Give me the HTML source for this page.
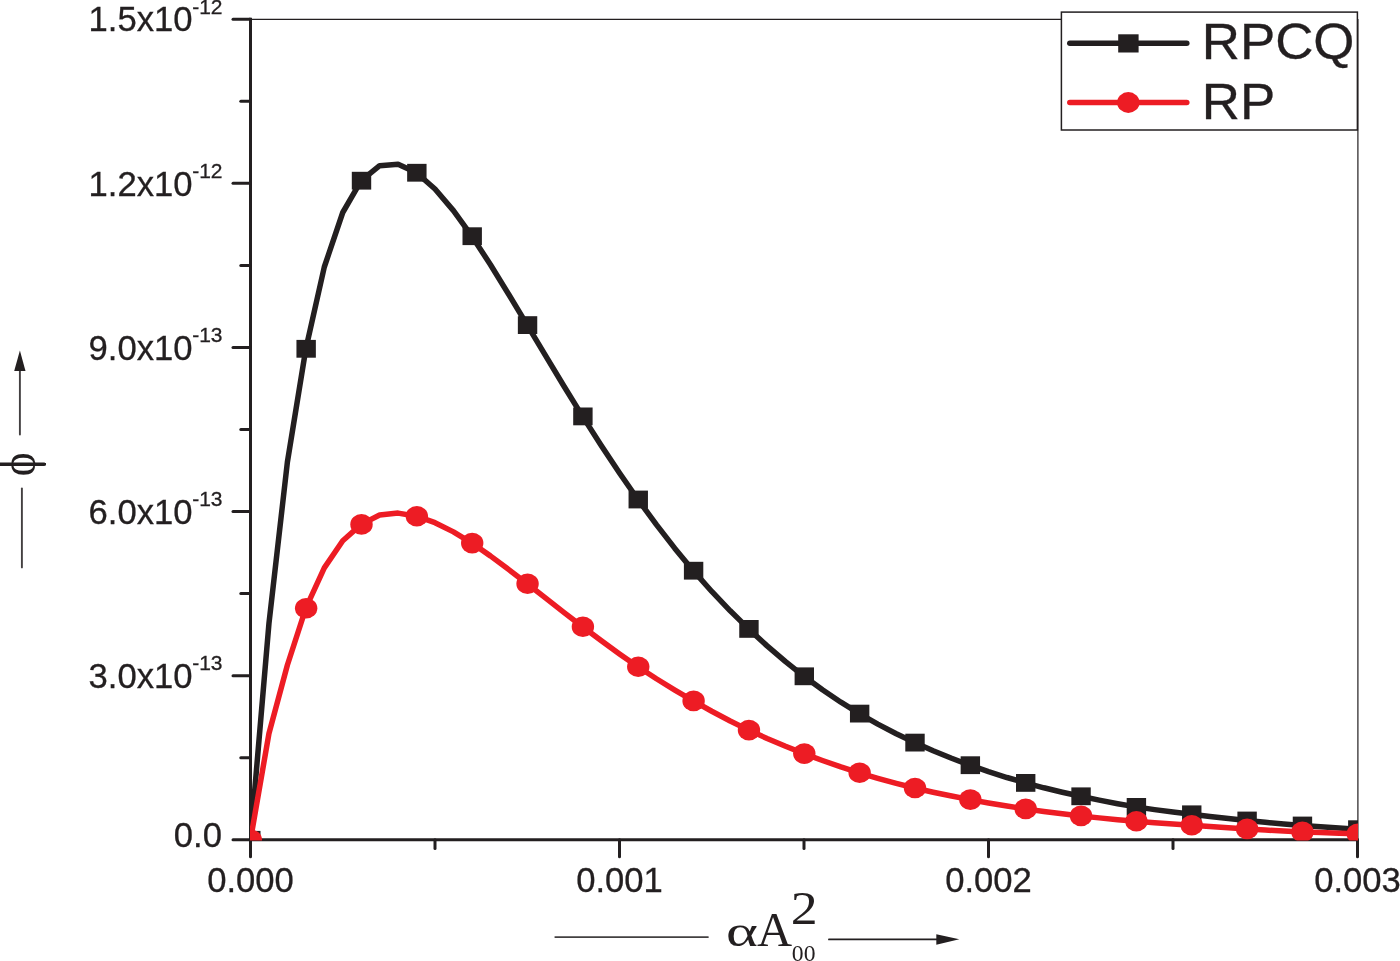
<!DOCTYPE html><html><head><meta charset="utf-8"><title>phi vs alpha A00^2</title><style>
html,body{margin:0;padding:0;background:#fff;width:1400px;height:961px;overflow:hidden}
svg{display:block}
.sans{font-family:"Liberation Sans",Arial,Helvetica,sans-serif;fill:#231f20;stroke:#231f20;stroke-width:0.3px}
.serif{font-family:"Liberation Serif","Times New Roman",Times,serif;fill:#231f20}
</style></head><body>
<svg width="1400" height="961" viewBox="0 0 1400 961">
<rect width="1400" height="961" fill="#fff"/>
<defs><clipPath id="pc"><rect x="250" y="19" width="1108" height="821.6"/></clipPath></defs>
<g stroke="#231f20" fill="none">
<line x1="250" y1="19.3" x2="1358" y2="19.3" stroke-width="1.2"/>
<line x1="1357.9" y1="19" x2="1357.9" y2="840" stroke-width="1.2"/>
<line x1="250.5" y1="17.8" x2="250.5" y2="841.3" stroke-width="3"/>
<line x1="249" y1="839.8" x2="1358.5" y2="839.8" stroke-width="3"/>
<line x1="233.0" y1="839.80" x2="250.5" y2="839.80" stroke-width="3" stroke-linecap="round"/>
<line x1="240.8" y1="757.74" x2="250.5" y2="757.74" stroke-width="3" stroke-linecap="round"/>
<line x1="233.0" y1="675.68" x2="250.5" y2="675.68" stroke-width="3" stroke-linecap="round"/>
<line x1="240.8" y1="593.62" x2="250.5" y2="593.62" stroke-width="3" stroke-linecap="round"/>
<line x1="233.0" y1="511.56" x2="250.5" y2="511.56" stroke-width="3" stroke-linecap="round"/>
<line x1="240.8" y1="429.50" x2="250.5" y2="429.50" stroke-width="3" stroke-linecap="round"/>
<line x1="233.0" y1="347.44" x2="250.5" y2="347.44" stroke-width="3" stroke-linecap="round"/>
<line x1="240.8" y1="265.38" x2="250.5" y2="265.38" stroke-width="3" stroke-linecap="round"/>
<line x1="233.0" y1="183.32" x2="250.5" y2="183.32" stroke-width="3" stroke-linecap="round"/>
<line x1="240.8" y1="101.26" x2="250.5" y2="101.26" stroke-width="3" stroke-linecap="round"/>
<line x1="233.0" y1="19.19" x2="250.5" y2="19.19" stroke-width="3" stroke-linecap="round"/>
<line x1="250.50" y1="839.8" x2="250.50" y2="856.8" stroke-width="3" stroke-linecap="round"/>
<line x1="435.00" y1="839.8" x2="435.00" y2="848.4" stroke-width="3" stroke-linecap="round"/>
<line x1="619.50" y1="839.8" x2="619.50" y2="856.8" stroke-width="3" stroke-linecap="round"/>
<line x1="804.00" y1="839.8" x2="804.00" y2="848.4" stroke-width="3" stroke-linecap="round"/>
<line x1="988.50" y1="839.8" x2="988.50" y2="856.8" stroke-width="3" stroke-linecap="round"/>
<line x1="1173.00" y1="839.8" x2="1173.00" y2="848.4" stroke-width="3" stroke-linecap="round"/>
<line x1="1357.50" y1="839.8" x2="1357.50" y2="856.8" stroke-width="3" stroke-linecap="round"/>
</g>
<g clip-path="url(#pc)" fill="none" stroke-width="5.5" stroke-linejoin="round">
<polyline stroke="#231f20" points="250.50,839.80 268.95,623.50 287.40,462.00 305.85,348.80 324.30,267.00 342.75,212.50 361.20,180.70 379.65,165.70 398.10,164.30 416.55,172.75 435.00,189.00 453.45,210.62 471.90,236.20 490.35,264.54 508.80,294.44 527.25,325.10 545.70,355.95 564.15,386.53 582.60,416.40 601.05,445.29 619.50,473.03 637.95,499.50 656.40,524.65 674.85,548.41 693.30,570.70 711.75,591.46 730.20,610.80 748.65,628.90 767.10,645.87 785.55,661.67 804.00,676.30 822.45,689.77 840.90,702.17 859.35,713.60 877.80,724.10 896.25,733.73 914.70,742.60 933.15,750.76 951.60,758.26 970.05,765.20 988.50,771.62 1006.95,777.51 1025.40,782.90 1043.85,787.79 1062.30,792.22 1080.75,796.30 1099.20,800.13 1117.65,803.69 1136.10,806.90 1154.55,809.65 1173.00,812.03 1191.45,814.30 1209.90,816.52 1228.35,818.59 1246.80,820.50 1265.25,822.29 1283.70,823.98 1302.15,825.50 1320.60,826.86 1339.05,828.09 1357.50,829.20"/>
</g>
<g clip-path="url(#pc)" fill="#231f20">
<rect x="241.10" y="830.90" width="19.4" height="17.8"/>
<rect x="296.45" y="339.90" width="19.4" height="17.8"/>
<rect x="351.80" y="171.80" width="19.4" height="17.8"/>
<rect x="407.15" y="163.85" width="19.4" height="17.8"/>
<rect x="462.50" y="227.30" width="19.4" height="17.8"/>
<rect x="517.85" y="316.20" width="19.4" height="17.8"/>
<rect x="573.20" y="407.50" width="19.4" height="17.8"/>
<rect x="628.55" y="490.60" width="19.4" height="17.8"/>
<rect x="683.90" y="561.80" width="19.4" height="17.8"/>
<rect x="739.25" y="620.00" width="19.4" height="17.8"/>
<rect x="794.60" y="667.40" width="19.4" height="17.8"/>
<rect x="849.95" y="704.70" width="19.4" height="17.8"/>
<rect x="905.30" y="733.70" width="19.4" height="17.8"/>
<rect x="960.65" y="756.30" width="19.4" height="17.8"/>
<rect x="1016.00" y="774.00" width="19.4" height="17.8"/>
<rect x="1071.35" y="787.40" width="19.4" height="17.8"/>
<rect x="1126.70" y="798.00" width="19.4" height="17.8"/>
<rect x="1182.05" y="805.40" width="19.4" height="17.8"/>
<rect x="1237.40" y="811.60" width="19.4" height="17.8"/>
<rect x="1292.75" y="816.60" width="19.4" height="17.8"/>
<rect x="1348.10" y="820.30" width="19.4" height="17.8"/>
</g>
<g clip-path="url(#pc)" fill="none" stroke-width="5.5" stroke-linejoin="round">
<polyline stroke="#ed1c24" points="250.50,839.80 268.95,733.50 287.40,665.00 305.85,608.20 324.30,567.90 342.75,540.70 361.20,524.40 379.65,515.00 398.10,513.10 416.55,516.20 435.00,522.69 453.45,531.85 471.90,543.10 490.35,555.88 508.80,569.59 527.25,583.80 545.70,598.20 564.15,612.55 582.60,626.70 601.05,640.53 619.50,653.92 637.95,666.70 656.40,678.74 674.85,690.09 693.30,700.90 711.75,711.23 730.20,720.99 748.65,730.10 767.10,738.51 785.55,746.30 804.00,753.60 822.45,760.46 840.90,766.87 859.35,772.80 877.80,778.28 896.25,783.34 914.70,788.00 933.15,792.21 951.60,796.03 970.05,799.60 988.50,802.96 1006.95,806.06 1025.40,808.90 1043.85,811.47 1062.30,813.78 1080.75,815.90 1099.20,817.87 1117.65,819.67 1136.10,821.30 1154.55,822.72 1173.00,823.98 1191.45,825.20 1209.90,826.47 1228.35,827.73 1246.80,828.90 1265.25,830.01 1283.70,831.04 1302.15,831.90 1320.60,832.60 1339.05,833.23 1357.50,833.80"/>
</g>
<g clip-path="url(#pc)" fill="#ed1c24">
<ellipse cx="250.80" cy="839.80" rx="11.2" ry="10.3"/>
<ellipse cx="306.15" cy="608.20" rx="11.2" ry="10.3"/>
<ellipse cx="361.50" cy="524.40" rx="11.2" ry="10.3"/>
<ellipse cx="416.85" cy="516.20" rx="11.2" ry="10.3"/>
<ellipse cx="472.20" cy="543.10" rx="11.2" ry="10.3"/>
<ellipse cx="527.55" cy="583.80" rx="11.2" ry="10.3"/>
<ellipse cx="582.90" cy="626.70" rx="11.2" ry="10.3"/>
<ellipse cx="638.25" cy="666.70" rx="11.2" ry="10.3"/>
<ellipse cx="693.60" cy="700.90" rx="11.2" ry="10.3"/>
<ellipse cx="748.95" cy="730.10" rx="11.2" ry="10.3"/>
<ellipse cx="804.30" cy="753.60" rx="11.2" ry="10.3"/>
<ellipse cx="859.65" cy="772.80" rx="11.2" ry="10.3"/>
<ellipse cx="915.00" cy="788.00" rx="11.2" ry="10.3"/>
<ellipse cx="970.35" cy="799.60" rx="11.2" ry="10.3"/>
<ellipse cx="1025.70" cy="808.90" rx="11.2" ry="10.3"/>
<ellipse cx="1081.05" cy="815.90" rx="11.2" ry="10.3"/>
<ellipse cx="1136.40" cy="821.30" rx="11.2" ry="10.3"/>
<ellipse cx="1191.75" cy="825.20" rx="11.2" ry="10.3"/>
<ellipse cx="1247.10" cy="828.90" rx="11.2" ry="10.3"/>
<ellipse cx="1302.45" cy="831.90" rx="11.2" ry="10.3"/>
<ellipse cx="1357.80" cy="833.80" rx="11.2" ry="10.3"/>
</g>
<text class="sans" font-size="34.3" text-anchor="end" transform="translate(222,846.60) scale(1.01,1)">0.0</text>
<text class="sans" font-size="34.3" text-anchor="end" transform="translate(192.5,687.98) scale(1.01,1)">3.0x10</text>
<text class="sans" font-size="20" text-anchor="start" transform="translate(192.2,670.23) scale(1.05,1)">-13</text>
<text class="sans" font-size="34.3" text-anchor="end" transform="translate(192.5,523.86) scale(1.01,1)">6.0x10</text>
<text class="sans" font-size="20" text-anchor="start" transform="translate(192.2,506.11) scale(1.05,1)">-13</text>
<text class="sans" font-size="34.3" text-anchor="end" transform="translate(192.5,359.74) scale(1.01,1)">9.0x10</text>
<text class="sans" font-size="20" text-anchor="start" transform="translate(192.2,341.99) scale(1.05,1)">-13</text>
<text class="sans" font-size="34.3" text-anchor="end" transform="translate(192.5,195.62) scale(1.01,1)">1.2x10</text>
<text class="sans" font-size="20" text-anchor="start" transform="translate(192.2,177.87) scale(1.05,1)">-12</text>
<text class="sans" font-size="34.3" text-anchor="end" transform="translate(192.5,31.49) scale(1.01,1)">1.5x10</text>
<text class="sans" font-size="20" text-anchor="start" transform="translate(192.2,13.74) scale(1.05,1)">-12</text>
<text class="sans" font-size="34.3" text-anchor="middle" transform="translate(250.50,891.8) scale(1.01,1)">0.000</text>
<text class="sans" font-size="34.3" text-anchor="middle" transform="translate(619.50,891.8) scale(1.01,1)">0.001</text>
<text class="sans" font-size="34.3" text-anchor="middle" transform="translate(988.50,891.8) scale(1.01,1)">0.002</text>
<text class="sans" font-size="34.3" text-anchor="middle" transform="translate(1357.50,891.8) scale(1.01,1)">0.003</text>
<rect x="1061.4" y="12.1" width="296" height="117.9" fill="#fff" stroke="#231f20" stroke-width="1.5"/>
<line x1="1069.8" y1="43.3" x2="1186.8" y2="43.3" stroke="#231f20" stroke-width="5.5" stroke-linecap="round"/>
<rect x="1118.2" y="34.3" width="20.4" height="18.2" fill="#231f20"/>
<line x1="1069.8" y1="102.5" x2="1186.8" y2="102.5" stroke="#ed1c24" stroke-width="5.5" stroke-linecap="round"/>
<ellipse cx="1128.3" cy="102.5" rx="11.2" ry="10.4" fill="#ed1c24"/>
<text class="sans" font-size="49.2" transform="translate(1201.7,59.3) scale(1.075,1)">RPCQ</text>
<text class="sans" font-size="49.2" transform="translate(1201.7,118.8) scale(1.075,1)">RP</text>
<line x1="555.2" y1="937.1" x2="708" y2="937.1" stroke="#231f20" stroke-width="1.7" stroke-linecap="round" opacity="0.85"/>
<line x1="828.9" y1="939.4" x2="940" y2="939.4" stroke="#231f20" stroke-width="1.7" stroke-linecap="round"/>
<path d="M936.3,934.2 L959.3,939.3 L936.3,944.7 Z" fill="#231f20"/>
<text class="serif" font-size="44.6" transform="translate(726,946) scale(1.366,1)">α</text>
<text class="serif" font-size="47.7" transform="translate(757,946) scale(1.02,1)">A</text>
<text class="serif" font-size="46" transform="translate(790.8,924) scale(1.17,1)">2</text>
<text class="serif" font-size="23" transform="translate(791.8,960.7) scale(1.03,1)">00</text>
<line x1="19.9" y1="370" x2="19.9" y2="434.6" stroke="#231f20" stroke-width="1.9" stroke-linecap="round" opacity="0.85"/>
<path d="M19.9,350.5 L25.5,370.9 L14.2,370.9 Z" fill="#231f20"/>
<line x1="21.9" y1="488.5" x2="21.9" y2="567.4" stroke="#231f20" stroke-width="1.9" stroke-linecap="round" opacity="0.85"/>
<text class="serif" font-size="45.5" text-anchor="middle" transform="translate(35,464.2) rotate(-90) scale(1,1.115)">ϕ</text>
<line x1="0" y1="464.2" x2="44.8" y2="464.2" stroke="#231f20" stroke-width="3.6"/>
</svg></body></html>
